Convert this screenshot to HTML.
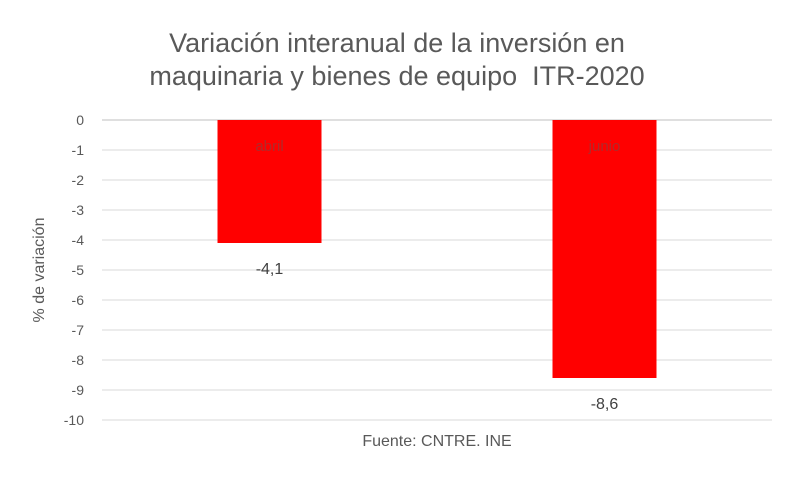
<!DOCTYPE html>
<html><head><meta charset="utf-8"><style>
body{margin:0;background:#fff}
svg{display:block;font-family:"Liberation Sans",Calibri,sans-serif}
</style></head><body>
<svg id="chart" width="794" height="478">
<rect width="794" height="478" fill="#fff"/>
<text x="397" y="52" text-anchor="middle" font-size="27" fill="#595959">Variación interanual de la inversión en</text>
<text x="397" y="85" text-anchor="middle" font-size="27" fill="#595959" style="white-space:pre">maquinaria y bienes de equipo  ITR-2020</text>
<text transform="translate(44,270) rotate(-90)" text-anchor="middle" font-size="16" fill="#595959">% de variación</text>
<text x="437" y="446" text-anchor="middle" font-size="16" fill="#595959">Fuente: CNTRE. INE</text>
<g id="grid"></g><g id="bars"></g>
</svg>
<script>
const categories=["abril","junio"];
const values=[-4.1,-8.6];
const valueLabels=["-4,1","-8,6"];
const yTicks=[0,-1,-2,-3,-4,-5,-6,-7,-8,-9,-10];
const NS="http://www.w3.org/2000/svg";
const x0=102,x1=772,yTop=120,yBot=420;
const y=v=>yTop+(0-v)/10*(yBot-yTop);
const bw=(x1-x0)/categories.length;
const cx=i=>x0+bw*(i+0.5);
const grid=document.getElementById('grid'),bars=document.getElementById('bars');
function mk(t,a,p){const e=document.createElementNS(NS,t);for(const k in a)e.setAttribute(k,a[k]);p.appendChild(e);return e;}
yTicks.forEach(t=>{
 const l=mk('line',{x1:x0,x2:x1,y1:y(t),y2:y(t),stroke:t===0?'#bfbfbf':'#d9d9d9','stroke-width':1},grid);
 
 
 const tx=mk('text',{x:84,y:y(t)+5,'text-anchor':'end','font-size':14,fill:'#595959'},grid);
 tx.textContent=String(t);
 
 
});
categories.forEach((c,i)=>{
 const w=104;
 const r=mk('rect',{x:cx(i)-w/2,y:y(0),width:w,height:y(values[i])-y(0),fill:'#ff0000'},bars);
 
 
 const cl=mk('text',{x:cx(i),y:y(0)+31,'text-anchor':'middle','font-size':15,fill:'#b02a2a'},bars);
 cl.textContent=c;
 
 
 const vl=mk('text',{x:cx(i),y:y(values[i])+31,'text-anchor':'middle','font-size':16,fill:'#404040'},bars);
 vl.textContent=valueLabels[i];
 
 
});
</script>
</body></html>
